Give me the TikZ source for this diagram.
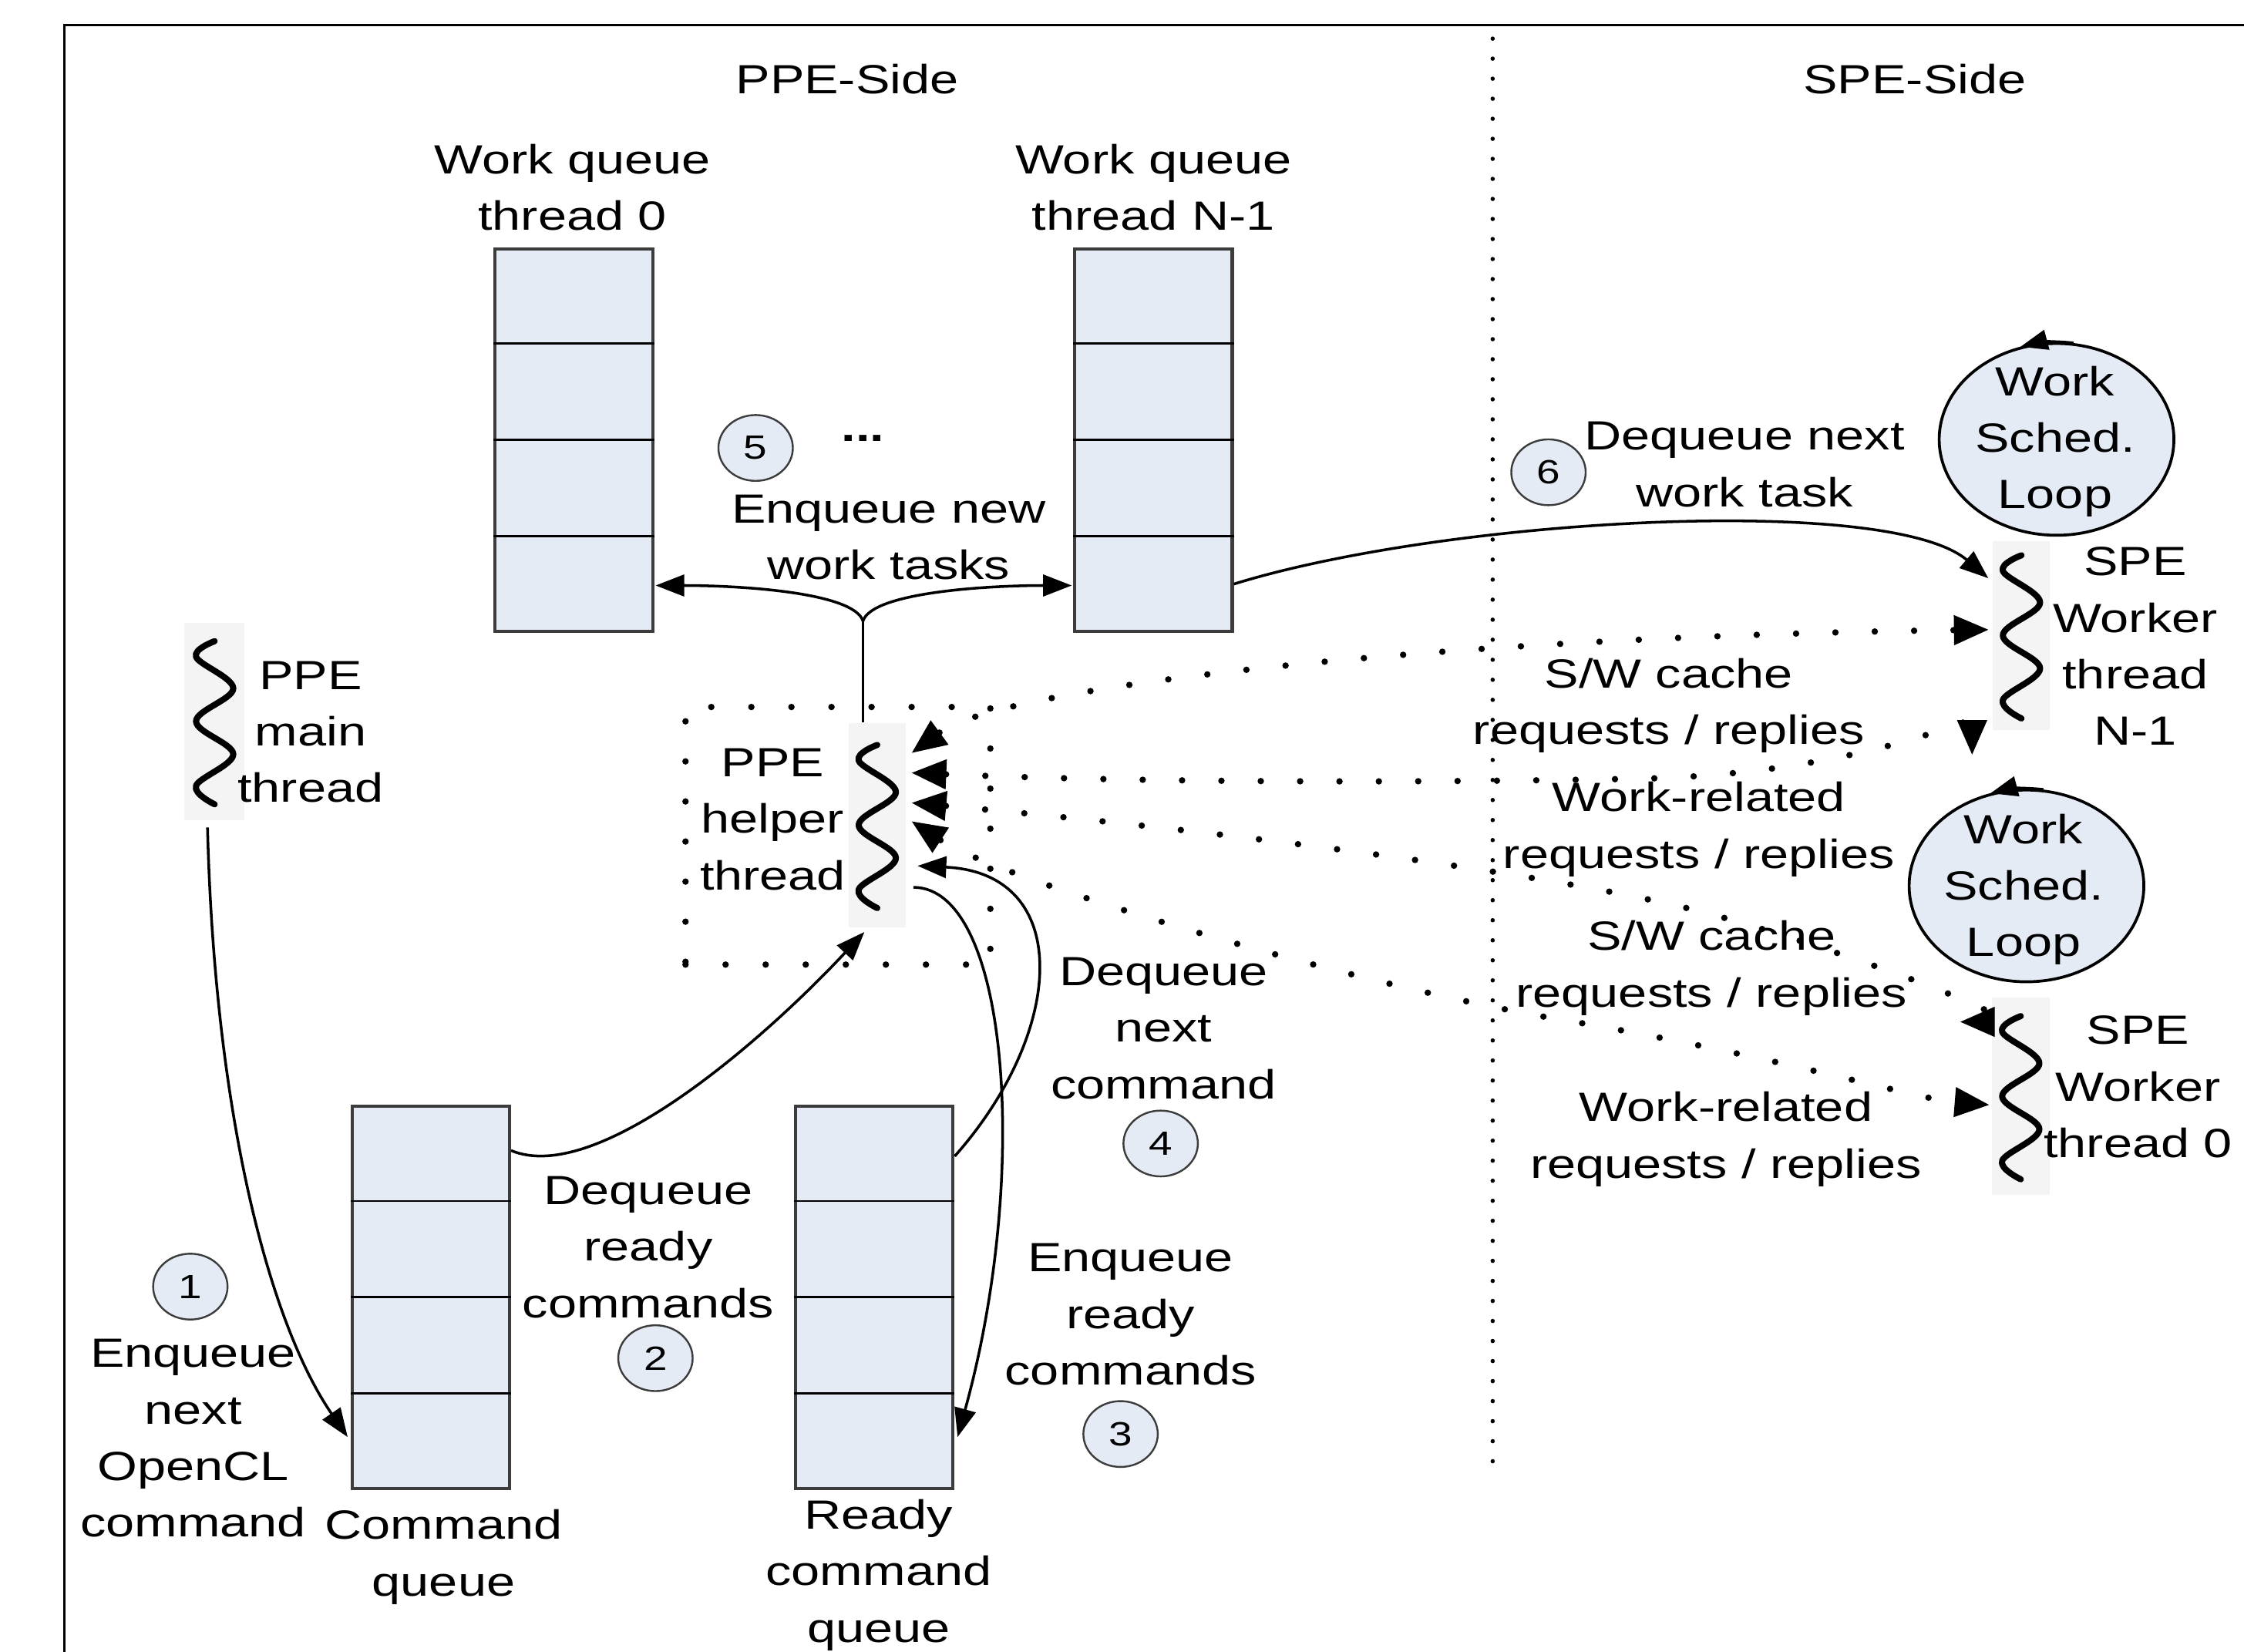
\documentclass[tikz,border=0pt]{standalone}
\usepackage{fontspec}
\setmainfont{Liberation Sans}[FakeStretch=1.26]
\usetikzlibrary{arrows.meta,calc,shapes.geometric}
\definecolor{qblue}{HTML}{E4EBF5}
\definecolor{tgray}{HTML}{F4F4F4}
\definecolor{qedge}{HTML}{3C3C3C}

\begin{document}
\begin{tikzpicture}[x=1pt,y=-1pt,
  txt/.style={font=\fontsize{28.5pt}{39.5pt}\selectfont, align=center, inner sep=0pt},
  queue/.style={draw=qedge, line width=2.2pt, fill=qblue, minimum width=110pt, minimum height=267pt, inner sep=0pt},
  cell/.style={draw=black, line width=1.6pt},
  num/.style={ellipse, draw=qedge, line width=1.3pt, fill=qblue, minimum width=52pt, minimum height=46pt, inner sep=0pt, font=\fontsize{23.5pt}{23.5pt}\selectfont},
  threadbg/.style={fill=tgray, inner sep=0pt, minimum width=40pt, minimum height=138pt},
  wave/.style={line width=4.3pt, line cap=round, line join=round},
  loopnode/.style={ellipse, draw=black, line width=2pt, fill=qblue, minimum width=164pt, minimum height=134pt, inner sep=0pt},
  looptip/.style={line width=2pt, >={Triangle[length=19pt,width=14pt]}, ->},
  flow/.style={line width=1.9pt, >={Triangle[length=20pt,width=15pt]}, ->},
  link/.style={line width=4.5pt, line cap=round, dash pattern=on 0pt off 27.5pt,
    >={Triangle[length=24pt,width=21pt,line width=0.6pt]}, <->},
  divider/.style={line width=3pt, line cap=round, dash pattern=on 0pt off 14pt},
  helperbox/.style={draw, line width=4.5pt, line cap=round, dash pattern=on 0pt off 28pt, inner sep=0pt},
]
\useasboundingbox (0,0) rectangle (1568,1154);
\clip (0,0) rectangle (1568,1154);
\fill[white] (0,0) rectangle (1568,1154);

% outer frame and the PPE / SPE divider
\draw[line width=2pt] (45,1200) -- (45,17.5) -- (1600,17.5);
\draw[divider] (1043,27) -- (1043,1030);

\node[txt] (ppeside) at (592,55) {PPE-Side};
\node[txt] (speside) at (1338,55) {SPE-Side};

% queues
\node[queue] (wq0) at (401,307.5) {};
\node[queue] (wqn) at (806,307.5) {};
\node[queue] (cmdq) at (301,906.5) {};
\node[queue] (rdyq) at (611,906.5) {};
\foreach \q in {wq0,wqn,cmdq,rdyq}
  \foreach \f in {0.25,0.5,0.75}
    \draw[cell] ($(\q.north west)!\f!(\q.south west)$) -- ($(\q.north east)!\f!(\q.south east)$);

\node[txt] (wq0lbl) at (400,131) {Work queue\\thread 0};
\node[txt] (wqnlbl) at (806,131) {Work queue\\thread N-1};
\node[txt] (cmdqlbl) at (310,1088) {Command\\queue};
\node[txt] (rdyqlbl) at (614,1100.5) {Ready\\command\\queue};

% helper thread area
\node[helperbox, minimum width=213pt, minimum height=180pt] (helperarea) at (585.5,584) {};

% threads
\node[threadbg, minimum width=42pt] (mainth) at (150,504) {};
\node[threadbg, minimum height=143pt] (helperth) at (613,576.5) {};
\node[threadbg, minimum height=132pt] (spen) at (1412.5,444) {};
\node[threadbg] (spe0) at (1412,766) {};
\foreach \thr in {mainth,helperth,spen,spe0}
  \draw[wave, shift={(\thr.center)}] plot[smooth, tension=0.6] coordinates
    {(0,-56) (-13,-45) (13,-23) (-13,0) (13,23) (-13,45) (0,58)};

\node[txt] (mainlbl) at (217,511.5) {PPE\\main\\thread};
\node[txt] (helperlbl) at (540,572.5) {PPE\\helper\\thread};
\node[txt] (spenlbl) at (1492,451.5) {SPE\\Worker\\thread\\N-1};
\node[txt] (spe0lbl) at (1494,759.5) {SPE\\Worker\\thread 0};

% work scheduling loops
\node[loopnode] (ws1) at (1437,307) {};
\node[loopnode] (ws0) at (1416,619) {};
\draw[looptip] (ws1.80) arc[start angle=-81.8, end angle=-108, x radius=82, y radius=67];
\draw[looptip] (ws0.80) arc[start angle=-81.8, end angle=-108, x radius=82, y radius=67];
\node[txt] (ws1t) at (1436,308.5) {Work\\Sched.\\Loop};
\node[txt] (ws0t) at (1414,621.5) {Work\\Sched.\\Loop};

% step numbers
\node[num] (c1) at (133,899) {1};
\node[num] (c2) at (458,949) {2};
\node[num] (c3) at (783,1002) {3};
\node[num] (c4) at (811,799) {4};
\node[num] (c5) at (528,313) {5};
\node[num] (c6) at (1082,330) {6};
\node[txt, font=\bfseries\fontsize{28.5pt}{39.5pt}\selectfont] (more) at (603,306) {...};

% step labels
\node[txt] (l1) at (135,1005) {Enqueue\\next\\OpenCL\\command};
\node[txt] (l2) at (453,871.5) {Dequeue\\ready\\commands};
\node[txt] (l3) at (790,918.5) {Enqueue\\ready\\commands};
\node[txt] (l4) at (813,718.5) {Dequeue\\next\\command};
\node[txt] (l5) at (621,375.5) {Enqueue new\\work tasks};
\node[txt] (l6) at (1219,324.5) {Dequeue next\\work task};

% request / reply labels
\node[txt] (swc1) at (1166,493) {S/W cache\\requests / replies};
\node[txt] (wr1) at (1187,579.5) {Work-related\\requests / replies};
\node[txt] (swc0) at (1196,676.5) {S/W cache\\requests / replies};
\node[txt] (wr0) at (1206,796) {Work-related\\requests / replies};

% 1: main thread -> command queue
\draw[flow] ([shift={(-5,5)}]mainth.south) .. controls +(5,200) and +(-55,-80) .. ([shift={(-2,-37)}]cmdq.south west);
% 2: command queue -> helper thread
\draw[flow] ([shift={(0,32)}]cmdq.north east) .. controls +(60,25) and +(-70,75) .. ([shift={(-9,3)}]helperth.south);
% 5: helper thread -> work queues
\coordinate (fork) at (603,434);
\draw[line width=1.9pt] ([xshift=-10pt]helperth.north) -- (fork);
\draw[flow] (fork) .. controls +(-6,-20) and +(60,0) .. ([shift={(1,-33)}]wq0.south east);
\draw[flow] (fork) .. controls +(6,-20) and +(-60,0) .. ([shift={(-1,-33)}]wqn.south west);
% 6: work queue N-1 -> SPE worker N-1
\draw[flow] ([shift={(0,-34)}]wqn.south east) .. controls (1011,362) and (1320,345) .. ([shift={(-3,-40)}]spen.west);
% 4: ready queue -> helper thread
\draw[flow] ([shift={(0,36)}]rdyq.north east) .. controls (745,720) and (750,610) .. ([shift={(8,28.5)}]helperth.east);
% 3: helper thread -> ready queue
\draw[flow] ([shift={(5,43.5)}]helperth.east) .. controls (705,620) and (720,820) .. ([shift={(2,-37)}]rdyq.south east);

% request / reply links between helper and SPE workers
\draw[link] ([shift={(4,-50.5)}]helperth.east) .. controls (700,480) and (1000,445) .. ([shift={(-3,-4)}]spen.west);
\draw[link] ([shift={(4,-36.5)}]helperth.east) .. controls (800,547) and (1000,547) .. (1150,544)
  .. controls (1300,540) and (1378,500) .. ([shift={(-34.5,17)}]spen.south);
\draw[link] ([shift={(4,-15.5)}]helperth.east) .. controls (850,580) and (1100,612) .. (1200,640)
  .. controls (1300,668) and (1420,714) .. ([shift={(-22,-52)}]spe0.west);
\draw[link] ([shift={(4,-2.5)}]helperth.east) .. controls (700,615) and (950,690) .. (1100,714)
  .. controls (1250,740) and (1340,768) .. ([shift={(-2,6)}]spe0.west);
\end{tikzpicture}
\end{document}
